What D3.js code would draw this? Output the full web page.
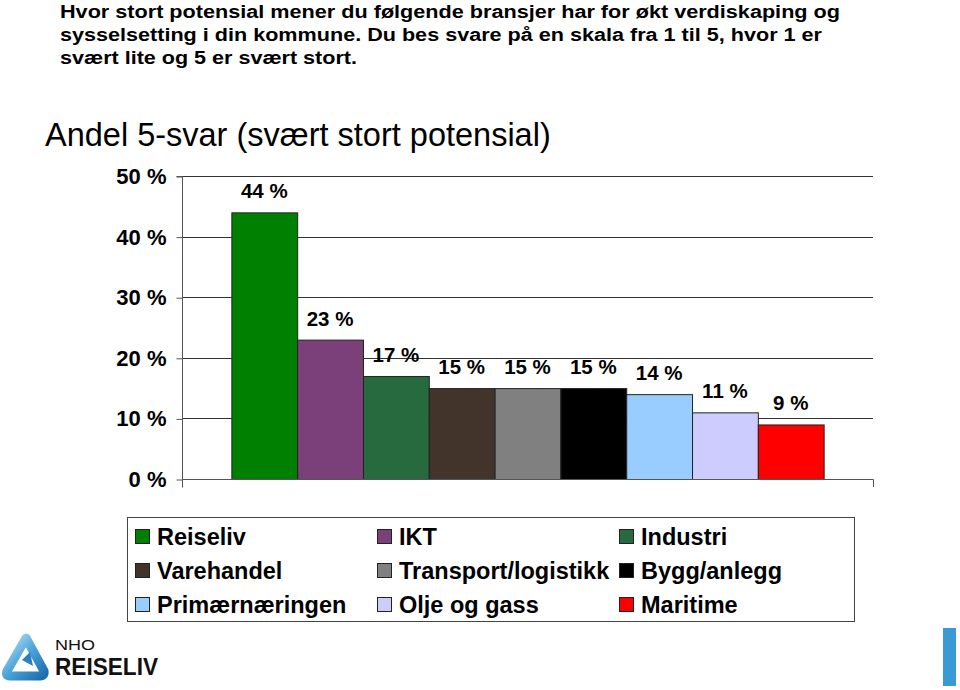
<!DOCTYPE html>
<html><head><meta charset="utf-8">
<script src="https://cdn.jsdelivr.net/npm/d3@7"></script>
<style>
html,body{margin:0;padding:0;background:#fff;}
svg{display:block;}
text{font-family:"Liberation Sans",Arial,sans-serif;}
</style></head>
<body>
<svg id="chart" width="960" height="690"></svg>
<script>
const titleLines = [
  "Hvor stort potensial mener du følgende bransjer har for økt verdiskaping og",
  "sysselsetting i din kommune. Du bes svare på en skala fra 1 til 5, hvor 1 er",
  "svært lite og 5 er svært stort."
];
const chartTitle = "Andel 5-svar (svært stort potensial)";
const categories = ["Reiseliv","IKT","Industri","Varehandel","Transport/logistikk","Bygg/anlegg","Primærnæringen","Olje og gass","Maritime"];
const values = [44, 23, 17, 15, 15, 15, 14, 11, 9];
const colors = ["#008000","#7b4079","#276a3d","#42342b","#808080","#000000","#99ccff","#ccccff","#ff0000"];
const yTicks = [0, 10, 20, 30, 40, 50];

const svg = d3.select("#chart");

// Top question title
const titleWidths = [780, 762, 297];
svg.append("g").selectAll("text").data(titleLines).join("text")
  .attr("x", 60).attr("y", (d,i) => 18 + i*23)
  .attr("font-family", "'DejaVu Sans', Verdana, sans-serif")
  .attr("font-weight", "bold").attr("font-size", 17.5)
  .attr("textLength", (d,i) => titleWidths[i]).attr("lengthAdjust", "spacingAndGlyphs")
  .attr("fill", "#000").text(d => d);

// Chart title
svg.append("text").attr("x", 45).attr("y", 146)
  .attr("font-size", 32.5).attr("fill", "#000").text(chartTitle);

// Scales
const x = d3.scaleBand().domain(categories).range([182, 873]).paddingOuter(0.75).paddingInner(0);
const y = d3.scaleLinear().domain([0, 50]).range([479, 176]);

// Gridlines
svg.append("g").selectAll("line").data(yTicks.filter(t => t > 0)).join("line")
  .attr("x1", 182).attr("x2", 873)
  .attr("y1", d => Math.round(y(d)) + 0.5).attr("y2", d => Math.round(y(d)) + 0.5)
  .attr("stroke", "#333").attr("stroke-width", 1);

// Y axis
const yAxis = svg.append("g").attr("transform", "translate(182.5,0.5)")
  .call(d3.axisLeft(y).tickValues(yTicks).tickSize(6).tickPadding(10).tickFormat(d => d + " %"));
yAxis.select(".domain").attr("stroke", "#555").attr("d", "M-6," + (y(50)) + "H0V" + (y(0) + 8));
yAxis.selectAll(".tick line").attr("stroke", "#555");
yAxis.selectAll(".tick text")
  .attr("font-family", "'Liberation Sans', Arial, sans-serif")
  .attr("font-size", 22).attr("font-weight", "bold").attr("fill", "#000");

// Bars
svg.append("g").selectAll("rect").data(values).join("rect")
  .attr("x", (d,i) => x(categories[i]) + 0.5)
  .attr("y", d => y(d) + 0.5)
  .attr("width", x.bandwidth())
  .attr("height", d => y(0) - y(d))
  .attr("fill", (d,i) => colors[i])
  .attr("stroke", "#222").attr("stroke-width", 1);

// X axis line
svg.append("path")
  .attr("d", "M182," + (Math.round(y(0)) + 0.5) + "H873.5V" + (y(0) + 8))
  .attr("fill", "none").attr("stroke", "#555").attr("stroke-width", 1);

// Value labels
svg.append("g").selectAll("text").data(values).join("text")
  .attr("x", (d,i) => x(categories[i]) + x.bandwidth()/2)
  .attr("y", d => y(d) - 14)
  .attr("text-anchor", "middle")
  .attr("font-size", 20.5).attr("font-weight", "bold").attr("fill", "#000")
  .text(d => d + " %");

// Legend
const legend = svg.append("g");
legend.append("rect").attr("x", 127.5).attr("y", 517.5).attr("width", 727).attr("height", 104)
  .attr("fill", "#fff").attr("stroke", "#444").attr("stroke-width", 1);
const items = legend.selectAll("g.item").data(categories).join("g")
  .attr("class", "item")
  .attr("transform", (d,i) => `translate(${135 + (i%3)*242},${537 + Math.floor(i/3)*34})`);
items.append("rect").attr("x", 0.5).attr("y", -7.5).attr("width", 14).attr("height", 14)
  .attr("fill", (d,i) => colors[i]).attr("stroke", "#222").attr("stroke-width", 1);
items.append("text").attr("x", 22).attr("y", 8)
  .attr("font-size", 23.5).attr("font-weight", "bold").attr("fill", "#000")
  .text(d => d);

// Logo (NHO Reiseliv)
const defs = svg.append("defs");
const grad = defs.append("linearGradient").attr("id", "lg").attr("x1", "0").attr("y1", "0").attr("x2", "1").attr("y2", "1");
grad.append("stop").attr("offset", "0%").attr("stop-color", "#b8e0f5");
grad.append("stop").attr("offset", "50%").attr("stop-color", "#4aa3d8");
grad.append("stop").attr("offset", "100%").attr("stop-color", "#1c6fae");
const logo = svg.append("g");
logo.append("path")
  .attr("d", "M26,638 L44,671 Q45,676 40,676 L10,676 Q5,676 7,671 Z")
  .attr("fill", "none").attr("stroke", "url(#lg)").attr("stroke-width", 9).attr("stroke-linejoin", "round");
logo.append("path").attr("d", "M22,660 L30,652 L33,666 Z").attr("fill", "#2a7fc0");
logo.append("text").attr("x", 55).attr("y", 650).attr("font-size", 15)
  .attr("textLength", 40).attr("lengthAdjust", "spacingAndGlyphs")
  .attr("fill", "#111").text("NHO");
logo.append("text").attr("x", 55).attr("y", 675).attr("font-size", 24).attr("font-weight", "bold")
  .attr("textLength", 103).attr("lengthAdjust", "spacingAndGlyphs")
  .attr("fill", "#111").text("REISELIV");

// Right edge blue bar
svg.append("rect").attr("x", 943).attr("y", 628).attr("width", 13).attr("height", 58).attr("fill", "#3a9ad4");
</script>
</body></html>
